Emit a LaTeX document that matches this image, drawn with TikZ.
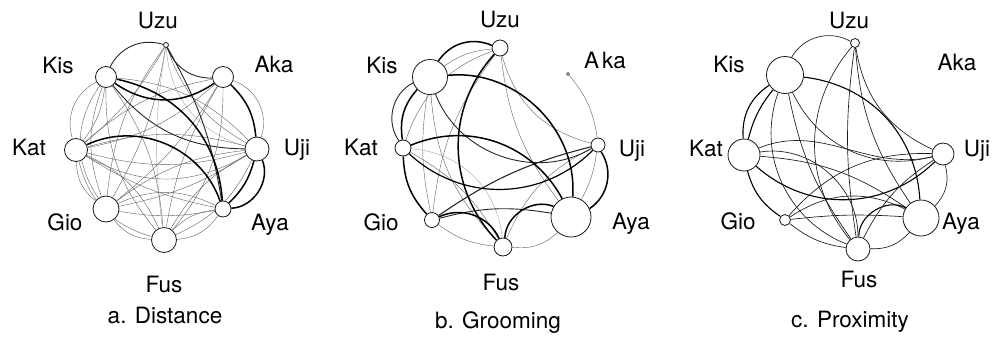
\documentclass[tikz,border=0pt]{standalone}
\usepackage{fontspec}
\setmainfont{TeX Gyre Heros}
\usetikzlibrary{backgrounds}
\begin{document}
\begin{tikzpicture}[x=1pt,y=-1pt,
  nd/.style={circle,draw=black!90,line width=0.8pt,fill=white,inner sep=0pt},
  lbl/.style={anchor=base,inner sep=0pt,font=\fontsize{22.5}{27}\selectfont},
  thn/.style={draw=black!62,line width=0.4pt},
  lgt/.style={draw=black!35,line width=0.4pt},
  med/.style={draw=black!85,line width=0.9pt},
  thk/.style={draw=black,line width=1.5pt},
  cln/.style={draw=black!90,line width=0.65pt},
  ctk/.style={draw=black,line width=1.1pt}]
\useasboundingbox (0,0) rectangle (998,338);

% ---------- panel a nodes ----------
\node[nd,minimum size=5pt]  (aUzu) at (166,45) {};
\node[nd,minimum size=21pt] (aKis) at (106,77) {};
\node[nd,minimum size=21pt] (aAka) at (223,77) {};
\node[nd,minimum size=23pt] (aKat) at (76,150) {};
\node[nd,minimum size=24pt] (aUji) at (257,149) {};
\node[nd,minimum size=26pt] (aGio) at (106,209) {};
\node[nd,minimum size=16pt] (aAya) at (223,209) {};
\node[nd,minimum size=25pt] (aFus) at (164,240) {};
\node[lbl] (laUzu) at (158,28) {Uzu};
\node[lbl] (laKis) at (58,73) {Kis};
\node[lbl] (laAka) at (274,72) {Aka};
\node[lbl] (laKat) at (29,155) {Kat};
\node[lbl] (laUji) at (297,155) {Uji};
\node[lbl] (laGio) at (65,230) {Gio};
\node[lbl] (laAya) at (270,230) {Aya};
\node[lbl] (laFus) at (164,292) {Fus};
\node[lbl] (laCap) at (165,323) {a. Distance};

% ---------- panel b nodes ----------
\node[nd,minimum size=16pt] (bUzu) at (500,48) {};
\node[nd,minimum size=3pt,line width=0.6pt] (bAka) at (568,74) {};
\node[nd,minimum size=35pt] (bKis) at (430,77) {};
\node[nd,minimum size=16pt] (bKat) at (403,148) {};
\node[nd,minimum size=14pt] (bUji) at (598,145) {};
\node[nd,minimum size=15pt] (bGio) at (432,220) {};
\node[nd,minimum size=40pt] (bAya) at (571,217) {};
\node[nd,minimum size=18pt] (bFus) at (503,247) {};
\node[lbl] (lbUzu) at (500,27) {Uzu};
\node[lbl] (lbKis) at (382,73) {Kis};
\node[lbl] (lbAka) at (605,68) {A\kern3pt ka};
\node[lbl] (lbKat) at (361,155) {Kat};
\node[lbl] (lbUji) at (632,156) {Uji};
\node[lbl] (lbGio) at (381,230) {Gio};
\node[lbl] (lbAya) at (631,229) {Aya};
\node[lbl] (lbFus) at (501,290) {Fus};
\node[lbl] (lbCap) at (498,328) {b. Grooming};

% ---------- panel c nodes ----------
\node[nd,minimum size=9pt]  (cUzu) at (855,43) {};
\node[nd,minimum size=37pt] (cKis) at (785,75) {};
\node[nd,minimum size=32pt] (cKat) at (744,155) {};
\node[nd,minimum size=22pt] (cUji) at (943,154) {};
\node[nd,minimum size=11pt] (cGio) at (785,220) {};
\node[nd,minimum size=36pt] (cAya) at (921,218) {};
\node[nd,minimum size=24pt] (cFus) at (858,249) {};
\node[lbl] (lcUzu) at (849,28) {Uzu};
\node[lbl] (lcKis) at (729,72) {Kis};
\node[lbl] (lcAka) at (957,70) {Aka};
\node[lbl] (lcKat) at (706,156) {Kat};
\node[lbl] (lcUji) at (977,156) {Uji};
\node[lbl] (lcGio) at (738,229) {Gio};
\node[lbl] (lcAya) at (961,229) {Aya};
\node[lbl] (lcFus) at (859,287) {Fus};
\node[lbl] (lcCap) at (850,327) {c. Proximity};

\begin{scope}[on background layer]
% ---------- panel a edges ----------
\draw[thn] (aUzu) to[bend right=20] (aUji);
\draw[lgt] (aUzu) to[bend right=35] (aUji);
\draw[thn] (aUzu) to[bend left=10] (aKat);
\draw[thn] (aUzu) to[bend left=10] (aGio);
\draw[thn] (aUzu) to[bend right=15] (aGio);
\draw[lgt] (aUzu) to[bend right=8] (aFus);
\draw[thn] (aAka) to[bend right=15] (aKat);
\draw[thn] (aAka) to[bend left=15] (aKat);
\draw[thn] (aAka) to[bend left=10] (aGio);
\draw[thn] (aAka) to[bend right=10] (aFus);
\draw[thn] (aAka) to[bend left=20] (aFus);
\draw[thn] (aAka) to[bend left=45] (aUji);
\draw[thn] (aKat) to[bend right=15] (aUji);
\draw[thn] (aKat) to[bend left=15] (aUji);
\draw[thn] (aKat) to[bend right=30] (aUji);
\draw[thn] (aGio) to[bend left=15] (aUji);
\draw[thn] (aGio) to[bend right=10] (aUji);
\draw[thn] (aFus) to[bend right=20] (aUji);
\draw[thn] (aFus) to[bend left=15] (aUji);
\draw[thn] (aGio) to[bend left=25] (aAya);
\draw[thn] (aGio) to[bend right=10] (aAya);
\draw[thn] (aFus) to[bend right=25] (aAya);
\draw[thn] (aFus) to[bend left=20] (aAya);
\draw[thn] (aGio) to[bend right=25] (aFus);
\draw[thn] (aKat) to[bend right=30] (aFus);
\draw[thn] (aKat) to[bend left=20] (aFus);
\draw[thn] (aKis) to[bend right=20] (aFus);
\draw[thn] (aKis) to[bend left=15] (aFus);
\draw[thn] (aKat) to[bend right=25] (aGio);
\draw[thn] (aKis) to[bend right=35] (aGio);
\draw[thn] (aKis) to[bend right=20] (aGio);
\draw[thn] (aKis) to[bend right=40] (aKat);
\draw[thn] (aKis) to[bend left=15] (aKat);
\draw[thn] (aKat) to[bend right=10] (aAya);
\draw[thn] (aKis) to[bend left=20] (aUji);
\draw[med] (aKis) to[bend left=40] (aUzu);
\draw[med] (aUzu) to[bend right=35] (aAka);
\draw[med] (aUzu) to[bend left=10] (aAya);
\draw[med] (aKis) to[bend right=25] (aUji);
\draw[thk] (aKis) to[bend right=35] (aAka);
\draw[thk] (aKis) to[bend left=37] (aAya);
\draw[thk] (aKat) to[bend left=48] (aAya);
\draw[thk] (aAka) to[bend left=20] (aUji);
\draw[thk] (aUji) to[bend left=55] (aAya);
\draw[thk] (aUji) to[bend left=15] (aAya);

% ---------- panel b edges ----------
\draw[thn] (bKis) to[bend left=15] (bUzu);
\draw[thn] (bUzu) to[bend right=30] (bUji);
\draw[thn] (bAka) to[bend left=16] (bUji);
\draw[thn] (bUzu) to[bend right=15] (bAya);
\draw[thn] (bUzu) to[bend right=25] (bKat);
\draw[thn] (bUzu) to[bend right=15] (bGio);
\draw[thn] (bKis) to[bend right=10] (bGio);
\draw[thn] (bKis) to[bend right=20] (bFus);
\draw[lgt] (bKat) to[bend left=40] (bFus);
\draw[thn] (bKat) to[bend left=15] (bFus);
\draw[thn] (bGio) to[bend right=15] (bFus);
\draw[thn] (bFus) to[bend right=25] (bAya);
\draw[thn] (bFus) to[bend left=20] (bUji);
\draw[thn] (bUji) to[bend left=10] (bAya);
\draw[med] (bKis) to[bend right=50] (bKat);
\draw[med] (bKis) to[bend right=50] (bUji);
\draw[med,line width=1.1pt] (bGio) to[bend left=10] (bUji);
\draw[med] (bGio) to[bend left=12] (bAya);
\draw[thk] (bKis) to[bend left=40] (bUzu);
\draw[thk] (bUzu) to[bend right=43] (bFus);
\draw[thk] (bKis) to[bend left=50] (bAya);
\draw[thk] (bKat) to[bend left=42] (bAya);
\draw[thk] (bKis) to[bend right=25] (bKat);
\draw[thk] (bKat) to[bend right=20] (bGio);
\draw[thk] (bFus) to[bend left=55] (bAya);
\draw[thk] (bGio) to[bend left=45] (bFus);
\draw[thk] (bUji) to[bend left=45] (bAya);
\draw[thk,line width=1.2pt] (bKat) to[bend right=44] (bUji);

% ---------- panel c edges ----------
\draw[cln] (cKis) to[bend left=45] (cUzu);
\draw[cln] (cUzu) to[bend right=40] (cFus);
\draw[cln] (cUzu) to[bend right=8] (cFus);
\draw[cln] (cUzu) to[bend right=28] (cUji);
\draw[cln] (cUzu) to[bend right=15] (cAya);
\draw[ctk] (cKis) to[bend left=40] (cAya);
\draw[cln] (cKis) to[bend right=40] (cUji);
\draw[ctk] (cKis) to[bend right=30] (cKat);
\draw[ctk] (cKis) to[bend right=12] (cKat);
\draw[ctk] (cKat) to[bend right=20] (cGio);
\draw[cln] (cKis) to[bend right=44] (cFus);
\draw[cln] (cKis) to[bend right=12] (cFus);
\draw[cln] (cKat) to[out=25,in=195,relative] (cUji);
\draw[ctk] (cKat) to[bend right=43] (cUji);
\draw[cln] (cKat) to[bend left=15] (cAya);
\draw[cln] (cKat) to[bend left=50] (cFus);
\draw[cln] (cGio) to[bend left=30] (cAya);
\draw[cln] (cGio) to[bend left=5] (cAya);
\draw[cln] (cGio) to[bend right=15] (cFus);
\draw[cln] (cGio) to[bend left=25] (cUji);
\draw[ctk] (cFus) to[bend left=60] (cAya);
\draw[cln] (cFus) to[bend right=25] (cAya);
\draw[cln] (cFus) to[bend left=15] (cUji);
\draw[cln] (cUji) to[bend left=30] (cAya);
\end{scope}
\end{tikzpicture}
\end{document}
